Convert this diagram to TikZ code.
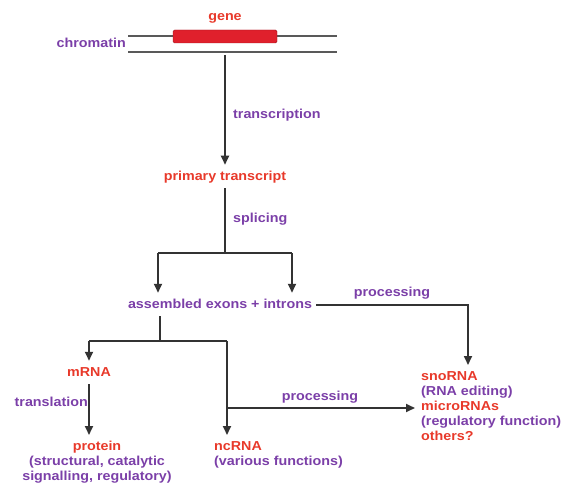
\documentclass[tikz,border=0pt]{standalone}
\usepackage{fontspec}
\setmainfont{Liberation Sans}[FakeStretch=1.1]
\usetikzlibrary{arrows.meta,calc}
\definecolor{rnared}{HTML}{E8392A}
\definecolor{barred}{HTML}{E0202C}
\definecolor{steppurple}{HTML}{7B3FA8}
\definecolor{linegray}{HTML}{333333}
\newcommand{\labfont}{\fontsize{13}{15}\selectfont\bfseries}
\tikzset{
  lab/.style={inner sep=0pt, text height=9.4pt, text depth=2.7pt, font=\labfont},
  rnab/.style={lab, text=rnared},
  steplab/.style={lab, text=steppurple},
  blockb/.style={inner sep=0pt, font=\labfont, text=steppurple},
  flow/.style={-{Triangle[length=9pt,width=8pt]}, line width=1.7pt,
    draw=linegray, shorten >=6pt},
  link/.style={line width=1.7pt, draw=linegray},
  strand/.style={line width=1.3pt, draw=black!65},
}
\begin{document}
\begin{tikzpicture}[x=1pt,y=-1pt]
  \useasboundingbox (0,0) rectangle (565,492);
  % chromatin with the gene on it
  \draw[strand] (128,36) -- (337,36);
  \draw[strand] (128,52) -- (337,52);
  \node[draw=barred!70!black, fill=barred, rounded corners=1.5pt,
    minimum width=104pt, minimum height=13pt, inner sep=0pt] (bar) at (225,36.5) {};
  \node[rnab] (gene) at (225,17) {gene};
  \node[steplab, anchor=east] (chrom) at (126,44) {chromatin};

  % transcription and splicing
  \coordinate (tss) at (225,55);
  \node[rnab] (pt) at (225,177) {primary transcript};
  \node[steplab, anchor=west] (transc) at (233,115) {transcription};
  \draw[flow] (tss) -- (pt);
  \node[steplab, anchor=west] (splic) at (233,219) {splicing};
  \node[steplab] (ae) at (220,305) {assembled exons + introns};
  \coordinate (split) at (225,253);
  \coordinate (brL) at (158,253);
  \coordinate (brR) at (292,253);
  \draw[link, shorten <=5pt] (pt) -- (split);
  \draw[link] (brL) -- (brR);
  \draw[flow] (brL) -- (brL |- ae.north);
  \draw[flow] (brR) -- (brR |- ae.north);

  % small RNAs
  \node[blockb, anchor=north west, align=left] (others) at (421,371)
    {\textcolor{rnared}{snoRNA}\\(RNA editing)\\\textcolor{rnared}{microRNAs}\\
     (regulatory function)\\\textcolor{rnared}{others?}};
  \coordinate (procR) at (468,0);
  \draw[flow, shorten <=4pt] (ae.east) -| (procR |- others.north);
  \node[steplab] (proc1) at (392,293) {processing};

  % mRNA and ncRNA
  \node[rnab] (mrna) at (89,373) {mRNA};
  \node[blockb, anchor=north, align=center] (prot) at (97,441)
    {\textcolor{rnared}{protein}\\(structural, catalytic\\signalling, regulatory)};
  \node[blockb, anchor=north west, align=left] (nc) at (214,441)
    {\textcolor{rnared}{ncRNA}\\(various functions)};
  \coordinate (brD) at (160,341);
  \coordinate (mL) at (89,341);
  \coordinate (mR) at (227,341);
  \draw[link, shorten <=5pt] (brD |- ae.south) -- (brD);
  \draw[link] (mL) -- (mR);
  \draw[flow] (mL) -- (mrna);
  \draw[flow] (mR) -- (mR |- nc.north);
  \draw[flow, shorten <=5pt] (mrna) -- (mrna |- prot.north);
  \node[steplab, anchor=east] (transl) at (88,403) {translation};

  \coordinate (ncfork) at (227,408);
  \draw[flow] (ncfork) -- (ncfork -| others.west);
  \node[steplab] (proc2) at (320,397) {processing};
\end{tikzpicture}
\end{document}
